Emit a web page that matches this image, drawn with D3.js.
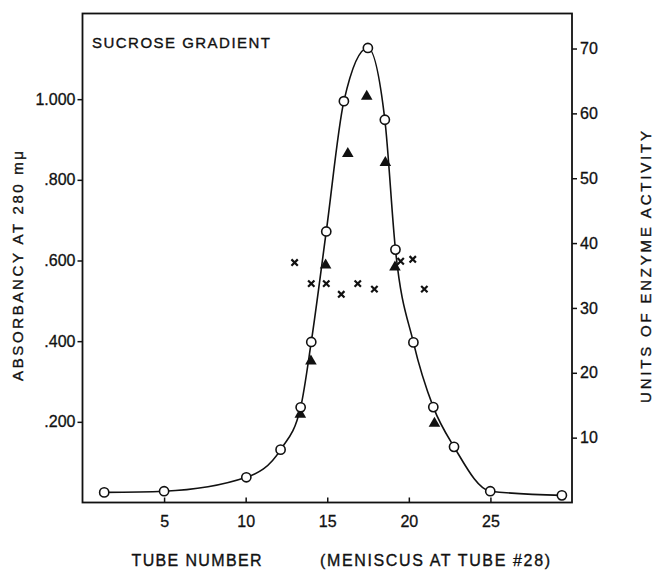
<!DOCTYPE html>
<html>
<head>
<meta charset="utf-8">
<script src="https://cdn.jsdelivr.net/npm/d3@7"></script>
<style>
  html, body { margin: 0; padding: 0; background: #fff; }
  svg { display: block; }
  text { font-family: "Liberation Sans", Arial, sans-serif; fill: #111; }
</style>
</head>
<body>
<svg id="chart" width="655" height="570"></svg>
<script>
// ---- Data ----
// Absorbance at 280 mμ (open circles, left axis)
const absTubes  = [1.33, 5.0, 10.04, 12.14, 13.37, 14.02, 14.94, 16.02, 17.49, 18.53, 19.18, 20.28, 21.5, 22.77, 24.99, 29.38];
const absValues = [0.025, 0.028, 0.0625, 0.131, 0.236, 0.398, 0.672, 0.995, 1.127, 0.949, 0.627, 0.397, 0.2365, 0.138, 0.028, 0.0177];
// Units of enzyme activity (filled triangles, right axis)
const triTubes  = [13.35, 14.0, 14.9, 16.26, 17.42, 18.56, 19.15, 21.57];
const triValues = [13.6, 21.8, 36.6, 53.8, 62.6, 52.4, 36.3, 12.2];
// Crosses (right axis)
const crossTubes  = [13.0, 14.02, 14.94, 15.86, 16.87, 17.89, 19.5, 20.24, 20.95];
const crossValues = [37.0, 33.75, 33.75, 32.1, 33.75, 32.9, 37.2, 37.5, 32.9];
// Tick values / labels
const xTicks = [5, 10, 15, 20, 25];
const leftTicks = [0.2, 0.4, 0.6, 0.8, 1.0];
const leftTickLabels = [".200", ".400", ".600", ".800", "1.000"];
const rightTicks = [10, 20, 30, 40, 50, 60, 70];

// ---- Layout ----
const L = 82.5, R = 572, T = 13.5, B = 502.5;
const svg = d3.select("#chart");

const x  = d3.scaleLinear().domain([0, 30]).range([L, R]);
const yL = d3.scaleLinear().domain([0, 1.2124]).range([B, T]);
const yR = d3.scaleLinear().domain([0, 75.4]).range([B, T]);

// Frame
svg.append("rect")
  .attr("x", L).attr("y", T).attr("width", R - L).attr("height", B - T)
  .attr("fill", "none").attr("stroke", "#111").attr("stroke-width", 1.8);

// Axes
const axL = svg.append("g").attr("transform", `translate(${L},0)`)
  .call(d3.axisLeft(yL).tickValues(leftTicks)
    .tickFormat((d, i) => leftTickLabels[i]).tickSize(5).tickPadding(2).tickSizeOuter(0));
const axR = svg.append("g").attr("transform", `translate(${R},0)`)
  .call(d3.axisRight(yR).tickValues(rightTicks).tickSize(5).tickPadding(3).tickSizeOuter(0));
const axB = svg.append("g").attr("transform", `translate(0,${B})`)
  .call(d3.axisBottom(x).tickValues(xTicks).tickSize(-5).tickPadding(13).tickSizeOuter(0));

[axL, axR, axB].forEach(g => {
  g.select(".domain").remove();
  g.selectAll(".tick line").attr("stroke", "#111").attr("stroke-width", 1.5);
  g.selectAll(".tick text").attr("font-size", 16)
    .attr("font-family", "'Liberation Sans', Arial, sans-serif").attr("fill", "#111")
    .attr("stroke", "#111").attr("stroke-width", 0.3);
});

// Curve through absorbance points
const absData = absTubes.map((t, i) => ({t, v: absValues[i]}));
svg.append("path")
  .datum(absData)
  .attr("fill", "none").attr("stroke", "#111").attr("stroke-width", 1.6)
  .attr("d", d3.line().x(d => x(d.t)).y(d => yL(d.v)).curve(d3.curveMonotoneX));

// Crosses
svg.append("g").selectAll("path")
  .data(crossTubes.map((t, i) => ({t, v: crossValues[i]})))
  .join("path")
  .attr("transform", d => `translate(${x(d.t)},${yR(d.v)})`)
  .attr("d", d3.symbol(d3.symbolX, 28)())
  .attr("fill", "none").attr("stroke", "#111").attr("stroke-width", 2.2);

// Triangles
svg.append("g").selectAll("path")
  .data(triTubes.map((t, i) => ({t, v: triValues[i]})))
  .join("path")
  .attr("transform", d => `translate(${x(d.t)},${yR(d.v)})`)
  .attr("d", d3.symbol(d3.symbolTriangle, 58)())
  .attr("fill", "#111");

// Circles
svg.append("g").selectAll("circle")
  .data(absData)
  .join("circle")
  .attr("cx", d => x(d.t)).attr("cy", d => yL(d.v)).attr("r", 4.6)
  .attr("fill", "#fff").attr("stroke", "#111").attr("stroke-width", 1.6);

// Text labels
const lbl = (sel) => sel.attr("stroke", "#111").attr("stroke-width", 0.35);

lbl(svg.append("text").attr("x", 92).attr("y", 47.5)
  .attr("font-size", 15).attr("textLength", 178).attr("lengthAdjust", "spacing")
  .text("SUCROSE  GRADIENT"));

lbl(svg.append("text").attr("x", 131.5).attr("y", 566)
  .attr("font-size", 16).attr("textLength", 130).attr("lengthAdjust", "spacing")
  .text("TUBE NUMBER"));

lbl(svg.append("text").attr("x", 320).attr("y", 566)
  .attr("font-size", 16).attr("textLength", 230).attr("lengthAdjust", "spacing")
  .text("(MENISCUS AT TUBE #28)"));

lbl(svg.append("text")
  .attr("transform", "translate(23,266) rotate(-90)")
  .attr("text-anchor", "middle")
  .attr("font-size", 15).attr("textLength", 230).attr("lengthAdjust", "spacing")
  .text("ABSORBANCY AT 280 mμ"));

lbl(svg.append("text")
  .attr("transform", "translate(651,267) rotate(-90)")
  .attr("text-anchor", "middle")
  .attr("font-size", 15).attr("textLength", 272).attr("lengthAdjust", "spacing")
  .text("UNITS OF ENZYME ACTIVITY"));
</script>
</body>
</html>
